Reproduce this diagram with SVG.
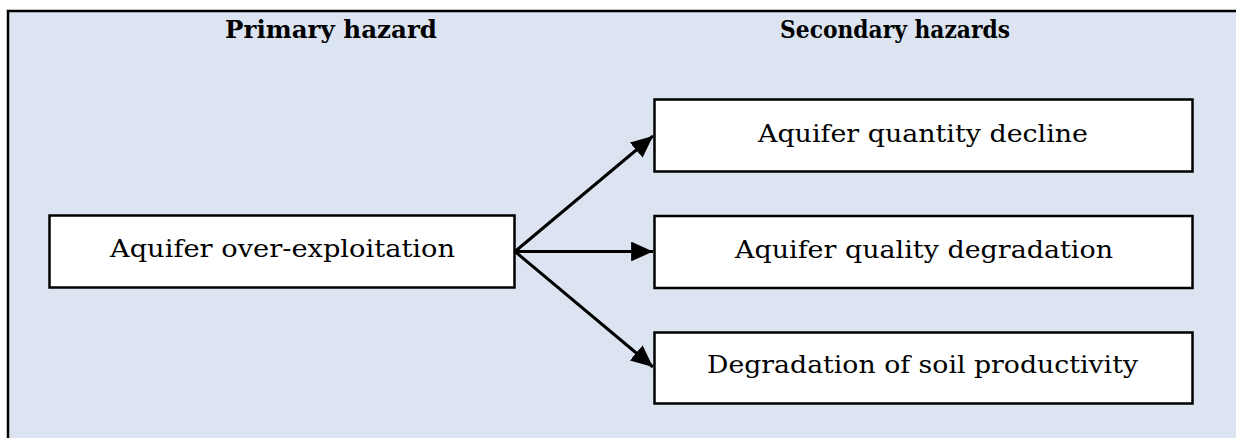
<svg xmlns="http://www.w3.org/2000/svg" width="1236" height="438" viewBox="0 0 1236 438">
<style>
.frame{fill:#dbe4f0;stroke:#000;stroke-width:2.5}
.box{fill:#fff;stroke:#000;stroke-width:2.5}
.t{font-family:"DejaVu Serif","Liberation Serif",serif;font-size:25px;fill:#000;text-anchor:middle}
.h{font-family:"DejaVu Serif","Liberation Serif",serif;font-size:25px;font-weight:bold;fill:#000;text-anchor:middle}
.c{stroke:#000;stroke-width:3;fill:none}
</style>
<defs>
<marker id="ah" viewBox="0 0 10 10" refX="10" refY="5" markerWidth="7.3" markerHeight="6.6" markerUnits="strokeWidth" orient="auto" preserveAspectRatio="none">
<path d="M0,0 L10,5 L0,10 z" fill="#000"/>
</marker>
</defs>
<rect class="frame" x="8" y="11" width="1240" height="440"/>
<text class="h" x="331" y="38" textLength="212" lengthAdjust="spacingAndGlyphs">Primary hazard</text>
<text class="h" x="895" y="38" textLength="230" lengthAdjust="spacingAndGlyphs">Secondary hazards</text>
<g id="n_primary">
<rect class="box" x="49.5" y="215.5" width="465" height="72"/>
<text class="t" x="282.5" y="257" textLength="345" lengthAdjust="spacingAndGlyphs">Aquifer over-exploitation</text>
</g>
<g id="n_quantity">
<rect class="box" x="654.5" y="99.5" width="538" height="72"/>
<text class="t" x="923" y="142" textLength="330" lengthAdjust="spacingAndGlyphs">Aquifer quantity decline</text>
</g>
<g id="n_quality">
<rect class="box" x="654.5" y="216" width="538" height="72"/>
<text class="t" x="924" y="258" textLength="378" lengthAdjust="spacingAndGlyphs">Aquifer quality degradation</text>
</g>
<g id="n_soil">
<rect class="box" x="654.5" y="332.5" width="538" height="71"/>
<text class="t" x="922.5" y="373" textLength="431" lengthAdjust="spacingAndGlyphs">Degradation of soil productivity</text>
</g>
<g id="connectors">
<line class="c" x1="515" y1="251.5" x2="653" y2="136" marker-end="url(#ah)"/>
<line class="c" x1="515" y1="251.5" x2="653" y2="251.5" marker-end="url(#ah)"/>
<line class="c" x1="515" y1="251.5" x2="653" y2="367" marker-end="url(#ah)"/>
</g>
</svg>
